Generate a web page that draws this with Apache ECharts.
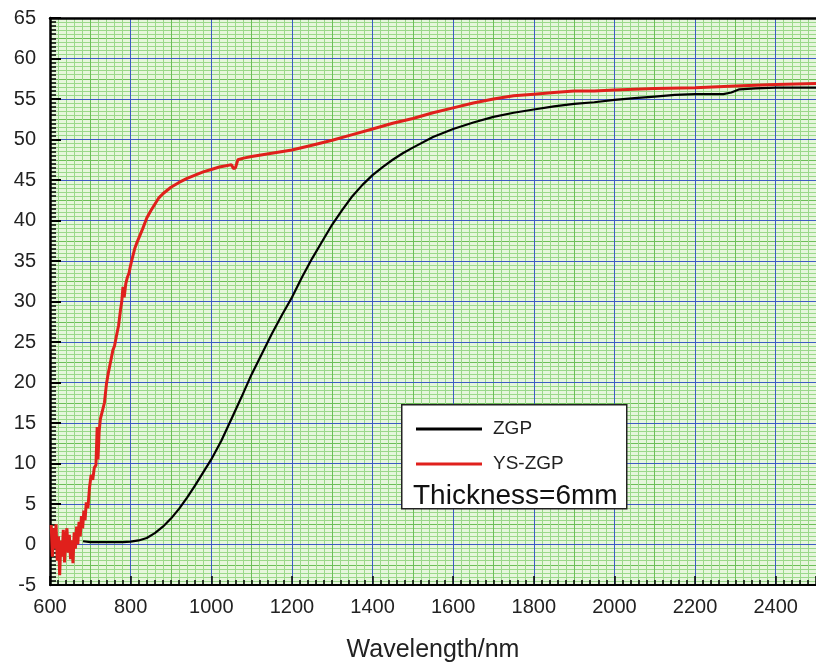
<!DOCTYPE html>
<html>
<head>
<meta charset="utf-8">
<script src="https://cdn.jsdelivr.net/npm/echarts@6/dist/echarts.min.js"></script>
<style>
html,body{margin:0;padding:0;background:#fff;}
#c{width:816px;height:669px;}
</style>
</head>
<body>
<div id="c"></div>
<script>
// ---- data ----
const xTicks = [600, 800, 1000, 1200, 1400, 1600, 1800, 2000, 2200, 2400];
const yTicks = [-5, 0, 5, 10, 15, 20, 25, 30, 35, 40, 45, 50, 55, 60, 65];
const xMax = 2500;
const seriesNames = ['ZGP', 'YS-ZGP'];
const noteText = 'Thickness=6mm';
const axisTitle = 'Wavelength/nm';

const zgpWl = [682, 700, 720, 740, 760, 780, 800, 820, 840, 860, 880, 900, 920, 940, 960, 980, 1000, 1025, 1050, 1075, 1100, 1125, 1150, 1175, 1200, 1225, 1250, 1275, 1300, 1325, 1350, 1375, 1400, 1425, 1450, 1475, 1500, 1550, 1600, 1650, 1700, 1750, 1800, 1850, 1900, 1950, 2000, 2050, 2100, 2150, 2200, 2270, 2290, 2310, 2350, 2400, 2500];
const zgpVal = [0.4, 0.3, 0.3, 0.3, 0.3, 0.3, 0.35, 0.5, 0.8, 1.4, 2.2, 3.2, 4.4, 5.8, 7.3, 8.9, 10.5, 12.8, 15.5, 18.2, 21.0, 23.5, 26.0, 28.3, 30.5, 33.0, 35.3, 37.4, 39.5, 41.3, 43.0, 44.4, 45.6, 46.6, 47.5, 48.3, 49.0, 50.3, 51.3, 52.1, 52.8, 53.3, 53.7, 54.1, 54.4, 54.6, 54.9, 55.1, 55.3, 55.5, 55.6, 55.6, 55.8, 56.2, 56.3, 56.4, 56.4];

const ysWl = [603, 606, 609, 612, 615, 618, 621, 624, 627, 630, 633, 636, 639, 642, 645, 648, 651, 654, 657, 660, 663, 666, 669, 672, 675, 678, 681, 684, 687, 690, 694, 698, 702, 706, 710, 714, 717, 719, 722, 725, 730, 735, 740, 744, 748, 752, 756, 760, 765, 770, 775, 778, 781, 784, 788, 792, 796, 800, 805, 810, 815, 820, 830, 840, 850, 860, 870, 880, 890, 900, 920, 940, 960, 980, 1000, 1020, 1040, 1050, 1055, 1060, 1066, 1080, 1100, 1150, 1200, 1250, 1300, 1350, 1400, 1450, 1500, 1550, 1600, 1650, 1700, 1750, 1800, 1850, 1900, 1950, 2000, 2100, 2200, 2300, 2400, 2500];
const ysVal = [2.4, -1.5, 2.0, -0.5, 2.5, -2.0, 1.0, -3.8, 0.5, -1.5, 1.8, -2.2, 0.8, 2.0, -1.0, 1.2, -1.8, 0.5, -2.3, 1.5, -0.5, 2.2, 0.0, 2.8, 1.0, 3.5, 2.0, 4.2, 3.0, 5.2, 4.5, 7.0, 8.6, 8.0, 9.5, 9.8, 14.5, 10.5, 14.0, 15.5, 16.5, 17.5, 19.8, 21.0, 22.0, 23.0, 24.0, 24.5, 25.8, 27.0, 29.0, 30.0, 31.8, 30.5, 32.2, 33.0, 33.5, 34.5, 35.5, 36.5, 37.2, 37.8, 39.0, 40.3, 41.2, 42.0, 42.8, 43.3, 43.7, 44.1, 44.7, 45.2, 45.6, 46.0, 46.3, 46.6, 46.8, 46.9, 46.4, 46.5, 47.5, 47.7, 47.9, 48.3, 48.7, 49.3, 49.9, 50.6, 51.3, 52.0, 52.6, 53.3, 53.9, 54.5, 55.0, 55.4, 55.6, 55.8, 56.0, 56.0, 56.1, 56.3, 56.4, 56.6, 56.8, 56.9];

// ---- chart ----
const FONT = '"Liberation Sans", Arial, sans-serif';
const xMin = xTicks[0], xInt = xTicks[1] - xTicks[0];
const yMin = yTicks[0], yMax = yTicks[yTicks.length - 1], yInt = yTicks[1] - yTicks[0];
const zip = (a, b) => a.map((v, i) => [v, b[i]]);
const plain = v => String(v);

const chart = echarts.init(document.getElementById('c'), null, {renderer: 'canvas'});

chart.setOption({
  animation: false,
  backgroundColor: '#ffffff',
  grid: {left: 50, right: -4, top: 18, bottom: 84, show: true, backgroundColor: '#e6f6dc', borderWidth: 0},
  xAxis: [
    {
      type: 'value', min: xMin, max: xMax, interval: xInt, z: 1,
      name: axisTitle, nameLocation: 'middle', nameGap: 53,
      nameTextStyle: {fontFamily: FONT, fontSize: 25, color: '#222'},
      axisLine: {show: true, onZero: false, lineStyle: {color: '#000', width: 2}},
      axisTick: {show: true, inside: true, length: 9, lineStyle: {color: '#000', width: 1.5}},
      minorTick: {show: true, splitNumber: 10, length: 5, lineStyle: {color: '#000', width: 1.5}},
      axisLabel: {fontFamily: FONT, fontSize: 20, color: '#222', margin: 12, showMaxLabel: false, formatter: plain},
      splitLine: {show: true, lineStyle: {color: '#3d5bc4', width: 1}},
      minorSplitLine: {show: false}
    },
    {
      type: 'value', min: xMin, max: xMax, interval: xInt / 2, z: 0,
      axisLine: {show: false}, axisTick: {show: false}, axisLabel: {show: false},
      minorTick: {show: false, splitNumber: 5},
      splitLine: {show: true, lineStyle: {color: '#6cbf58', width: 1}},
      minorSplitLine: {show: true, lineStyle: {color: '#9ad88a', width: 1}}
    },
    {
      type: 'value', min: xMin, max: xMax, position: 'top', z: 3,
      axisLine: {show: true, onZero: false, lineStyle: {color: '#000', width: 2.5}},
      axisTick: {show: false}, axisLabel: {show: false}, splitLine: {show: false}
    }
  ],
  yAxis: [
    {
      type: 'value', min: yMin, max: yMax, interval: yInt, z: 1,
      axisLine: {show: true, onZero: false, lineStyle: {color: '#000', width: 2.5}},
      axisTick: {show: true, inside: true, length: 11, lineStyle: {color: '#000', width: 2}},
      minorTick: {show: true, splitNumber: 10, length: 6, lineStyle: {color: '#000', width: 1.5}},
      axisLabel: {fontFamily: FONT, fontSize: 20, color: '#222', margin: 14, formatter: plain},
      splitLine: {show: true, lineStyle: {color: '#3d5bc4', width: 1}},
      minorSplitLine: {show: false}
    },
    {
      type: 'value', min: yMin, max: yMax, interval: yInt / 2, z: 0,
      axisLine: {show: false}, axisTick: {show: false}, axisLabel: {show: false},
      minorTick: {show: false, splitNumber: 5},
      splitLine: {show: true, lineStyle: {color: '#6cbf58', width: 1}},
      minorSplitLine: {show: true, lineStyle: {color: '#9ad88a', width: 1}}
    }
  ],
  legend: {
    orient: 'vertical', left: 411, top: 413, itemWidth: 66, itemHeight: 3, itemGap: 13,
    icon: 'rect', z: 6,
    textStyle: {fontFamily: FONT, fontSize: 19, color: '#222', padding: [0, 0, 0, 6], lineHeight: 22},
    data: [
      {name: seriesNames[0], itemStyle: {color: '#000'}},
      {name: seriesNames[1], itemStyle: {color: '#e0201c'}}
    ]
  },
  graphic: [
    {type: 'rect', left: 401, top: 404, z: 5, shape: {width: 225, height: 104},
     style: {fill: '#ffffff', stroke: '#222', lineWidth: 1.5}},
    {type: 'text', left: 413, top: 482, z: 6,
     style: {text: noteText, font: '28px "Liberation Sans", Arial, sans-serif', fill: '#111'}}
  ],
  series: [
    {name: seriesNames[0], type: 'line', xAxisIndex: 0, yAxisIndex: 0, symbol: 'none', z: 3,
     data: zip(zgpWl, zgpVal),
     lineStyle: {color: '#000', width: 2.2}, itemStyle: {color: '#000'}},
    {name: seriesNames[1], type: 'line', xAxisIndex: 0, yAxisIndex: 0, symbol: 'none', z: 4,
     data: zip(ysWl, ysVal),
     lineStyle: {color: '#e0201c', width: 3}, itemStyle: {color: '#e0201c'}}
  ]
});
</script>
</body>
</html>
